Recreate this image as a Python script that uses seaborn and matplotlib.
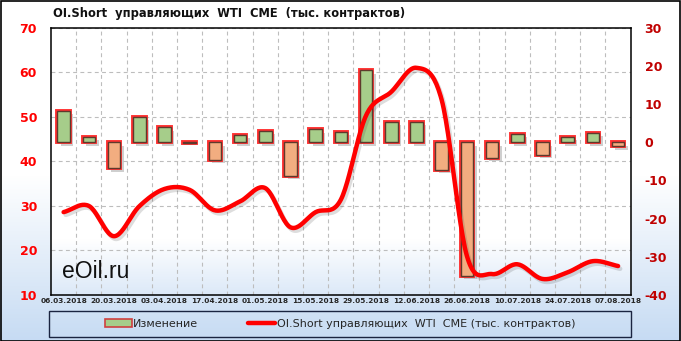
import numpy as np
import pandas as pd
import matplotlib
matplotlib.use("Agg")
import matplotlib.pyplot as plt
import seaborn as sns
from matplotlib import patheffects as pe
from matplotlib.patches import Patch, Rectangle
from matplotlib.lines import Line2D

# ---------------- data ----------------
dates = ["06.03.2018", "13.03.2018", "20.03.2018", "27.03.2018", "03.04.2018",
         "10.04.2018", "17.04.2018", "24.04.2018", "01.05.2018", "08.05.2018",
         "15.05.2018", "22.05.2018", "29.05.2018", "05.06.2018", "12.06.2018",
         "19.06.2018", "26.06.2018", "03.07.2018", "10.07.2018", "17.07.2018",
         "24.07.2018", "31.07.2018", "07.08.2018"]
oi_short = [28.6, 30.0, 23.2, 29.9, 33.8, 33.6, 29.0, 31.0, 34.0, 25.2, 28.6, 31.4,
            50.3, 55.6, 61.0, 53.8, 18.8, 14.7, 16.9, 13.6, 15.1, 17.6, 16.5]
change = [8.3, 1.4, -6.8, 6.7, 3.9, -0.2, -4.6, 2.0, 3.0, -8.8, 3.4, 2.8,
          18.9, 5.3, 5.4, -7.2, -35.0, -4.1, 2.2, -3.3, 1.5, 2.5, -1.1]
left_ticks = [10, 20, 30, 40, 50, 60, 70]
right_ticks = [-40, -30, -20, -10, 0, 10, 20, 30]

title = "OI.Short  управляющих  WTI  CME  (тыс. контрактов)"
bar_label = "Изменение"
line_label = "OI.Short управляющих  WTI  CME (тыс. контрактов)"

GREEN = "#a6cd8a"
ORANGE = "#f2ad80"
RED = "#ff0000"

pos = np.arange(len(dates))
df = pd.DataFrame({"pos": pos, "change": change, "oi": oi_short,
                   "sign": ["pos" if c >= 0 else "neg" for c in change]})


def smooth(x, y, n=24):
    P = np.column_stack([x, y]).astype(float)
    P = np.vstack([2 * P[0] - P[1], P, 2 * P[-1] - P[-2]])
    t = np.linspace(0, 1, n, endpoint=False)[:, None]
    segs = []
    for i in range(1, len(P) - 2):
        p0, p1, p2, p3 = P[i - 1], P[i], P[i + 1], P[i + 2]
        segs.append(0.5 * (2 * p1 + (-p0 + p2) * t
                           + (2 * p0 - 5 * p1 + 4 * p2 - p3) * t ** 2
                           + (-p0 + 3 * p1 - 3 * p2 + p3) * t ** 3))
    segs.append(P[-2][None, :])
    S = np.vstack(segs)
    return S[:, 0], S[:, 1]


sx, sy = smooth(pos, oi_short)
line_df = pd.DataFrame({"x": sx, "y": sy})

# ---------------- figure ----------------
sns.set_style("white")
plt.rcParams["font.family"] = ["DejaVu Sans"]

W, H = 681, 341
fig = plt.figure(figsize=(W / 100, H / 100), dpi=100)

# figure background gradient
bg = fig.add_axes([0, 0, 1, 1], zorder=-10)
rows = np.arange(H)
t = np.clip((rows - 175) / (H - 175), 0, 1)
c0 = np.array([1.0, 1.0, 1.0])
c1 = np.array(matplotlib.colors.to_rgb("#c6dbf3"))
grad = (c0[None, :] * (1 - t[:, None]) + c1[None, :] * t[:, None])[:, None, :]
bg.imshow(grad, aspect="auto", extent=(0, 1, 0, 1))
bg.set_xlim(0, 1); bg.set_ylim(0, 1)
bg.axis("off")

ax_rect = [51 / W, (H - 295) / H, 579.7 / W, 267.3 / H]

# plot area gradient
pbg = fig.add_axes(ax_rect, zorder=-5)
prow = np.arange(268)
pt = np.clip((prow - 212) / (267 - 212), 0, 1)
p1 = np.array(matplotlib.colors.to_rgb("#dce9f8"))
pgrad = (c0[None, :] * (1 - pt[:, None]) + p1[None, :] * pt[:, None])[:, None, :]
pbg.imshow(pgrad, aspect="auto", extent=(0, 1, 0, 1))
pbg.set_xlim(0, 1); pbg.set_ylim(0, 1)
pbg.axis("off")

ax = fig.add_axes(ax_rect)
ax.patch.set_visible(False)
ax_bar = ax.twinx()
ax_line = ax.twinx()

# bars (right scale)
sns.barplot(data=df, x="pos", y="change", hue="sign", native_scale=True,
            palette={"pos": GREEN, "neg": ORANGE}, hue_order=["pos", "neg"],
            dodge=False, width=0.5, saturation=1, legend=False, ax=ax_bar,
            edgecolor="#5e3a2c", linewidth=1.0)
for p in ax_bar.patches:
    p.set_path_effects([
        pe.SimplePatchShadow(offset=(2.5, -2.5), shadow_rgbFace="#777777", alpha=0.35),
        pe.Stroke(linewidth=2.8, foreground="#ff3030"),
        pe.Normal(),
    ])
ax_bar.set_ylim(right_ticks[0], right_ticks[-1])
ax_bar.set_yticks(right_ticks)
ax_bar.set_yticklabels([str(v) for v in right_ticks])
ax_bar.tick_params(axis="y", length=0, pad=10, labelsize=9, labelcolor="#c00000")
for lab in ax_bar.get_yticklabels():
    lab.set_fontweight("bold")
ax_bar.set_xlabel(""); ax_bar.set_ylabel("")

# line (left scale)
sns.lineplot(data=line_df, x="x", y="y", sort=False, estimator=None, color=RED,
             linewidth=3.2, ax=ax_line,
             path_effects=[pe.SimpleLineShadow(offset=(1.5, -2), alpha=0.18, shadow_color="#444444"),
                           pe.Normal()])
ax_line.set_ylim(left_ticks[0], left_ticks[-1])
ax_line.yaxis.set_visible(False)
ax_line.set_xlabel(""); ax_line.set_ylabel("")

# primary axis: left labels, grid, x labels
ax.set_ylim(left_ticks[0], left_ticks[-1])
ax.set_yticks(left_ticks)
ax.set_yticklabels([str(v) for v in left_ticks])
ax.tick_params(axis="y", length=0, pad=10, labelsize=9, labelcolor=RED)
for lab in ax.get_yticklabels():
    lab.set_fontweight("bold")

ax.set_xlim(-0.5, len(dates) - 0.5)
ax.set_xticks(pos[::2])
ax.set_xticklabels(dates[::2])
ax.set_xticks(pos[:-1] + 0.5, minor=True)
ax.tick_params(axis="x", which="both", length=0, pad=2, labelsize=5.3)
for lab in ax.get_xticklabels():
    lab.set_fontweight("bold")

ax.grid(False)
ax.yaxis.grid(True, which="major", color="#bdbdbd", linestyle=(0, (3.5, 3)), linewidth=0.8)
ax.xaxis.grid(True, which="minor", color="#bdbdbd", linestyle=(0, (3.5, 3)), linewidth=0.8)
for a in (ax, ax_bar, ax_line):
    for s in a.spines.values():
        s.set_visible(False)
for s in ax.spines.values():
    s.set_visible(True)
    s.set_color("black")
    s.set_linewidth(1.1)
ax_line.set_xlim(-0.5, len(dates) - 0.5)

ax.text(0.0185, 0.064, "eOil.ru", transform=ax.transAxes, fontsize=16.5,
        family="Liberation Sans", color="#111111", va="baseline", ha="left")

# title
fig.text(53 / W, 1 - 13 / H, title, fontsize=8.3, fontweight="bold",
         ha="left", va="center", color="#111111")

# legend
fig.patches.append(Rectangle((49 / W, (H - 337) / H), 582 / W, 26 / H,
                             transform=fig.transFigure, fill=False,
                             edgecolor="#1a2440", linewidth=1.0))
handles = [
    Patch(facecolor=GREEN, edgecolor="#d04040", linewidth=1.2),
    Line2D([0], [0], color=RED, linewidth=3.2),
]
fig.legend(handles, [bar_label, line_label], loc="center",
           bbox_to_anchor=(340 / W, (H - 324) / H), ncol=2, frameon=False,
           fontsize=8, handlelength=2.4, handleheight=0.7, handletextpad=0.15,
           columnspacing=4.5)

# outer border
fig.patches.append(Rectangle((0.5 / W, 0.5 / H), (W - 1.5) / W, (H - 1.5) / H,
                             transform=fig.transFigure, fill=False,
                             edgecolor="black", linewidth=1.2))

fig.savefig("out.png", dpi=100)
